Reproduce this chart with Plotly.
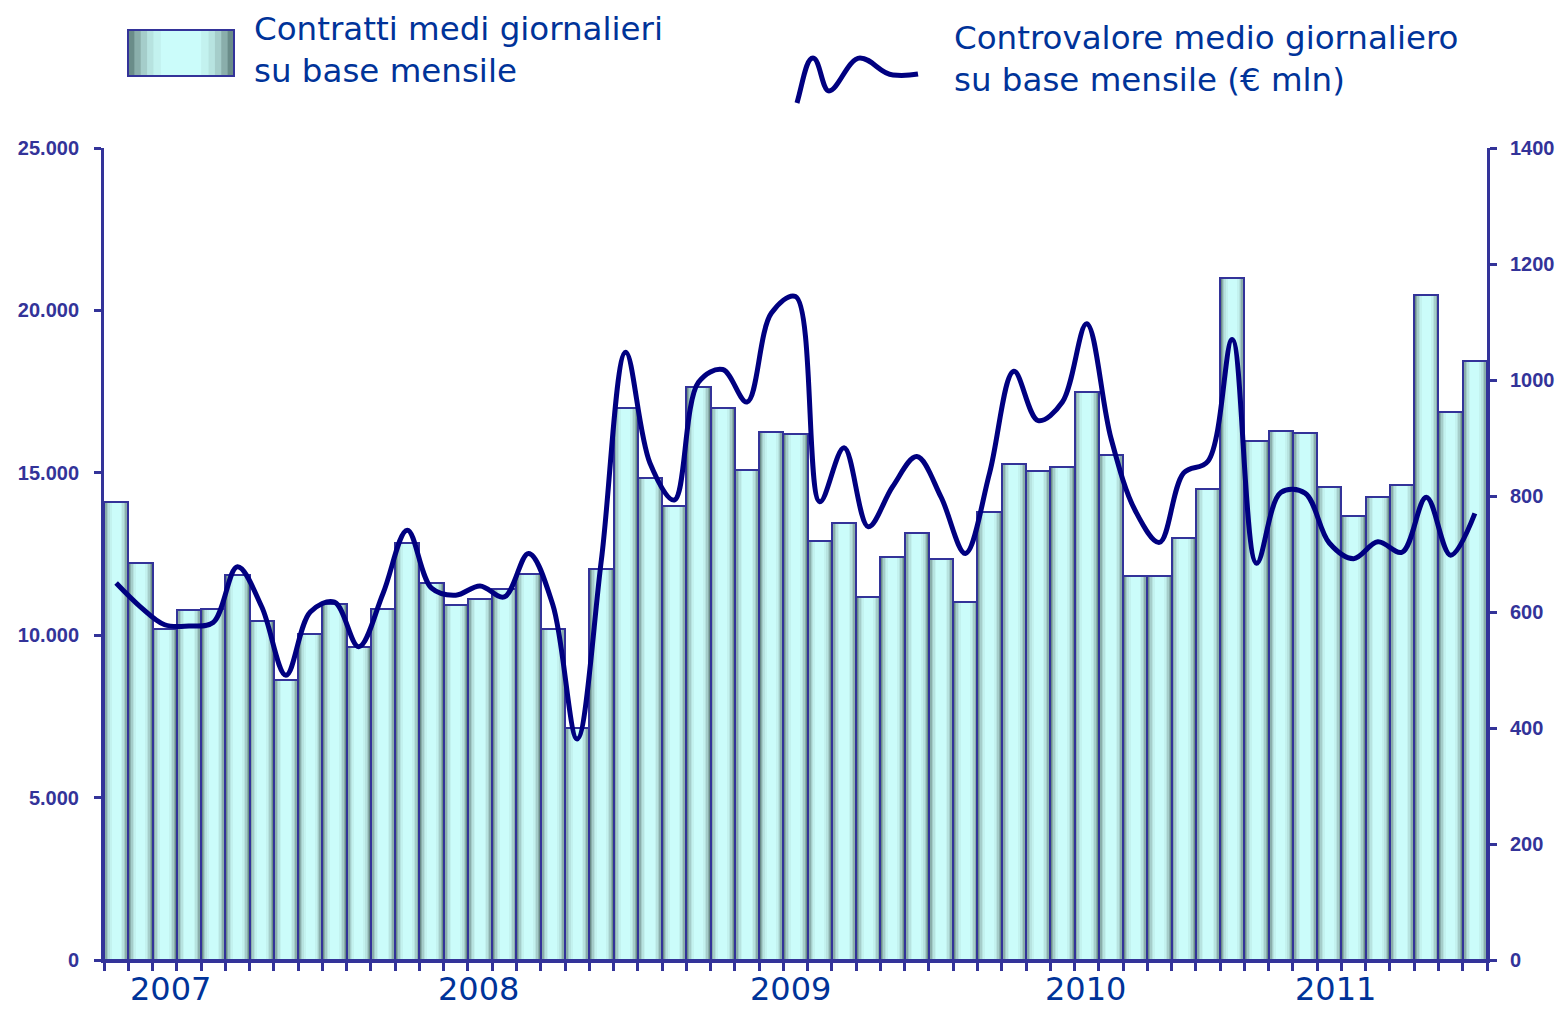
import plotly.graph_objects as go

# ---------------- data ----------------
months = [f"{y}-{m:02d}" for y in range(2007, 2012) for m in range(1, 13)][:57]

contratti = [14100, 12220, 10190, 10780, 10810, 11850, 10450, 8620, 10040, 10950,
             9650, 10820, 12830, 11610, 10940, 11110, 11410, 11880, 10190, 7140,
             12040, 17010, 14840, 13980, 17640, 17000, 15090, 16260, 16190, 12900,
             13450, 11180, 12410, 13150, 12350, 11020, 13780, 15280, 15060, 15190,
             17500, 15550, 11820, 11820, 12980, 14500, 21010, 15980, 16290, 16230,
             14560, 13670, 14250, 14620, 20470, 16880, 18450]

controvalore = [650, 609, 578, 576, 582, 678, 609, 491, 600, 617,
                540, 632, 741, 641, 629, 645, 626, 701, 612, 381,
                690, 1048, 857, 793, 996, 1018, 962, 1115, 1144, 790,
                883, 747, 816, 868, 798, 701, 840, 1015, 930, 962,
                1097, 900, 775, 720, 840, 860, 1070, 684, 806, 805,
                719, 692, 721, 703, 798, 698, 770]

year_labels = ["2007", "2008", "2009", "2010", "2011"]
year_label_pos = [2.22, 14.92, 27.78, 39.94, 50.24]   # category-index positions of labels

legend_bar_text = ["Contratti medi giornalieri", "su base mensile"]
legend_line_text = ["Controvalore medio giornaliero", "su base mensile (€ mln)"]

# ---------------- layout constants ----------------
W, H = 1564, 1010
L, R, T, B = 104, 1487, 148, 960
AXIS = "#333399"
NAVY = "#000080"
TXT = "#003399"

def px(x):
    return (x - L) / (R - L)

def py(y):
    return (B - y) / (B - T)

layers = [(1.0, "#6a8c89"), (0.88, "#8aaeab"), (0.76, "#a5cdca"),
          (0.64, "#b7e3e0"), (0.52, "#c3f2ef"), (0.38, "#cbfcfa")]

fig = go.Figure()

for w, c in layers:
    fig.add_trace(go.Bar(x=months, y=contratti, width=w, marker=dict(color=c, line=dict(width=0)),
                         showlegend=False, hoverinfo="skip", yaxis="y"))
fig.add_trace(go.Bar(x=months, y=contratti, width=1.0,
                     marker=dict(color="rgba(0,0,0,0)", line=dict(color=AXIS, width=2)),
                     name=" ".join(legend_bar_text), showlegend=False, yaxis="y"))

fig.add_trace(go.Scatter(x=months, y=controvalore, mode="lines", yaxis="y2",
                         line=dict(color=NAVY, width=5, shape="spline", smoothing=1.0),
                         name=" ".join(legend_line_text), showlegend=False))

shapes = []
# legend gradient box (pixel coords)
lx0, lx1, ly0, ly1 = 128, 234, 30, 76
cx = (lx0 + lx1) / 2
hw = (lx1 - lx0) / 2
for w, c in layers:
    shapes.append(dict(type="rect", xref="paper", yref="paper",
                       x0=px(cx - hw * w), x1=px(cx + hw * w), y0=py(ly1), y1=py(ly0),
                       fillcolor=c, line=dict(width=0), layer="above"))
shapes.append(dict(type="rect", xref="paper", yref="paper",
                   x0=px(lx0), x1=px(lx1), y0=py(ly1), y1=py(ly0),
                   fillcolor="rgba(0,0,0,0)", line=dict(color=AXIS, width=2), layer="above"))

# legend squiggle
def P(x, y):
    return f"{px(x):.5f},{py(y):.5f}"

path = ("M " + P(797, 103) +
        " C " + P(803, 82) + " " + P(806, 58) + " " + P(813, 58) +
        " C " + P(820, 58) + " " + P(822, 91) + " " + P(829, 91) +
        " C " + P(838, 91) + " " + P(848, 58) + " " + P(860, 58) +
        " C " + P(872, 58) + " " + P(880, 74) + " " + P(893, 75) +
        " C " + P(903, 76) + " " + P(912, 75) + " " + P(918, 74))
shapes.append(dict(type="path", xref="paper", yref="paper", path=path,
                   line=dict(color=NAVY, width=5), layer="above"))

annotations = []
legend_font = dict(family="DejaVu Sans", size=32.5, color=TXT)
for txt, yy in zip(legend_bar_text, [29, 71]):
    annotations.append(dict(text=txt, xref="paper", yref="paper", x=px(252), y=py(yy),
                            xanchor="left", yanchor="middle", showarrow=False, font=legend_font))
for txt, yy in zip(legend_line_text, [38, 80]):
    annotations.append(dict(text=txt, xref="paper", yref="paper", x=px(952), y=py(yy),
                            xanchor="left", yanchor="middle", showarrow=False, font=legend_font))
for txt, pos in zip(year_labels, year_label_pos):
    annotations.append(dict(text=txt, xref="x", yref="paper", x=pos, y=py(989),
                            xanchor="center", yanchor="middle", showarrow=False,
                            font=dict(family="DejaVu Sans", size=32, color=TXT)))

tickfont = dict(family="Liberation Sans", size=20, color=AXIS, weight="bold")

fig.update_layout(
    width=W, height=H,
    margin=dict(l=L, r=W - R, t=T, b=H - B, pad=0),
    paper_bgcolor="white", plot_bgcolor="white",
    barmode="overlay", bargap=0,
    separators=",.",
    showlegend=False,
    shapes=shapes, annotations=annotations,
    xaxis=dict(type="category", categoryorder="array", categoryarray=months,
               range=[-0.5, len(months) - 0.5], tickson="boundaries",
               ticks="outside", ticklen=8, tickwidth=3, tickcolor=AXIS,
               showticklabels=False, showgrid=False, zeroline=False,
               showline=True, linecolor=AXIS, linewidth=3, automargin=False),
    yaxis=dict(range=[0, 25000], dtick=5000, tick0=0, tickformat=",d",
               ticks="outside", ticklen=7, tickwidth=3, tickcolor=AXIS,
               tickfont=tickfont, ticklabelstandoff=11,
               showgrid=False, zeroline=False, showline=True, linecolor=AXIS, linewidth=3,
               automargin=False),
    yaxis2=dict(range=[0, 1400], dtick=200, tick0=0, tickformat="d",
                overlaying="y", side="right",
                ticks="outside", ticklen=7, tickwidth=3, tickcolor=AXIS,
                tickfont=tickfont, ticklabelstandoff=9,
                showgrid=False, zeroline=False, showline=True, linecolor=AXIS, linewidth=3,
                automargin=False),
)

fig.write_html("out.html", config={"displayModeBar": False},
               post_script="document.body.style.margin='0px';document.body.style.overflow='hidden';")
